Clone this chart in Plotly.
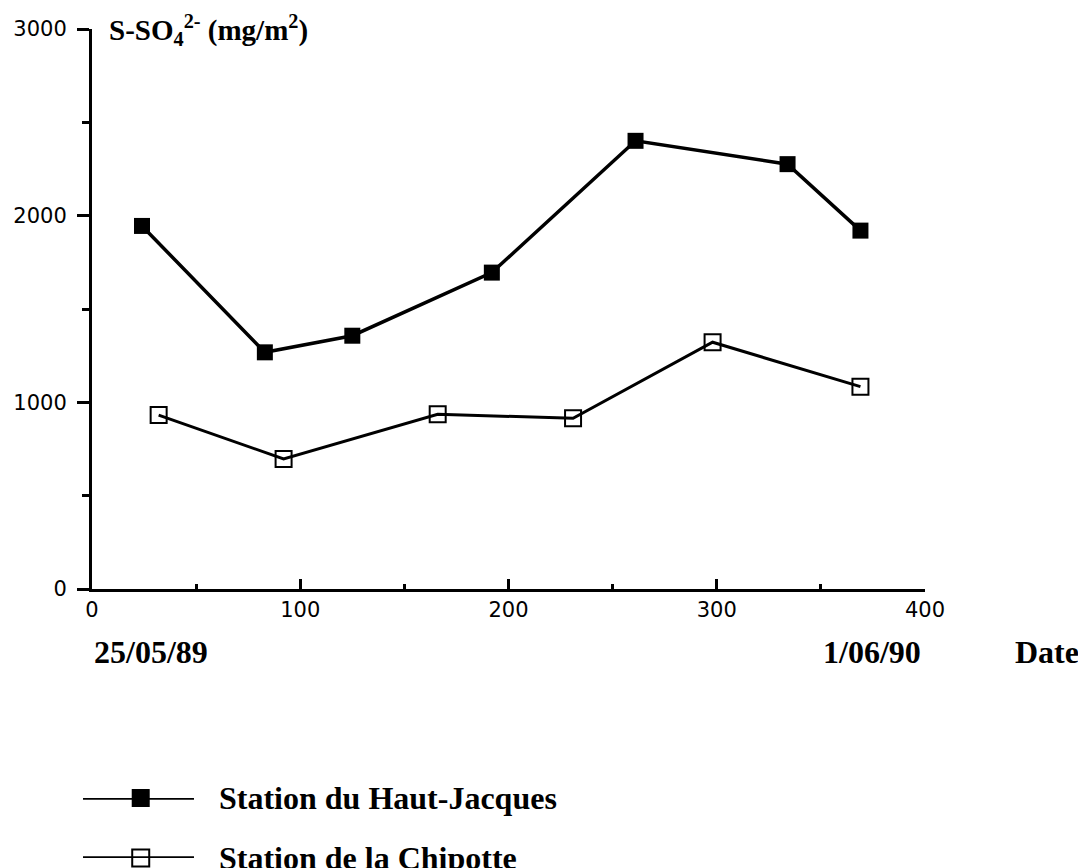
import plotly.graph_objects as go

# jours depuis le 25/05/89 et S-SO4 (mg/m2)
days_hj = [24, 83, 125, 192, 261, 334, 369]
so4_hj = [1945, 1268, 1357, 1695, 2401, 2276, 1920]
days_ch = [32, 92, 166, 231, 298, 369]
so4_ch = [932, 697, 936, 915, 1322, 1084]

names = ["Station du Haut-Jacques", "Station de la Chipotte"]
x_ticks = [0, 100, 200, 300, 400]
y_ticks = [0, 1000, 2000, 3000]

# legend key: a line across the key box with the marker in the middle
key_x = [0, 1]
key_mid = [0.52]
key_rows = [1, 0]

tick_font = dict(family="DejaVu Sans", size=21, color="black")
bold_font = dict(family="Liberation Serif", size=32, color="black", weight="bold")

fig = go.Figure()

fig.add_trace(go.Scatter(
    x=days_hj, y=so4_hj, mode="lines+markers", name=names[0],
    line=dict(color="black", width=3.5),
    marker=dict(symbol="square", size=16, color="black"),
    showlegend=False, cliponaxis=False
))
fig.add_trace(go.Scatter(
    x=days_ch, y=so4_ch, mode="lines+markers", name=names[1],
    line=dict(color="black", width=3),
    marker=dict(symbol="square-open", size=16, color="black", line=dict(width=2)),
    showlegend=False, cliponaxis=False
))

# hand-made legend keys on a hidden subplot
fig.add_trace(go.Scatter(x=key_x, y=[key_rows[0]] * 2, mode="lines", xaxis="x2", yaxis="y2",
                         line=dict(color="black", width=3.5), showlegend=False, cliponaxis=False))
fig.add_trace(go.Scatter(x=key_mid, y=[key_rows[0]], mode="markers", xaxis="x2", yaxis="y2",
                         marker=dict(symbol="square", size=18, color="black"),
                         showlegend=False, cliponaxis=False))
fig.add_trace(go.Scatter(x=key_x, y=[key_rows[1]] * 2, mode="lines", xaxis="x2", yaxis="y2",
                         line=dict(color="black", width=3.5), showlegend=False, cliponaxis=False))
fig.add_trace(go.Scatter(x=key_mid, y=[key_rows[1]], mode="markers", xaxis="x2", yaxis="y2",
                         marker=dict(symbol="square-open", size=17, color="black", line=dict(width=2)),
                         showlegend=False, cliponaxis=False))

annotations = [
    dict(text="S-SO<sub>4</sub><sup>2-</sup> (mg/m<sup>2</sup>)", x=0.0543, y=0.999,
         xref="paper", yref="paper", xanchor="left", yanchor="middle", showarrow=False,
         font=dict(family="Liberation Serif", size=29, color="black", weight="bold")),
    dict(text="25/05/89", x=0.037, y=0.2574, xref="paper", yref="paper",
         xanchor="left", yanchor="middle", showarrow=False, font=bold_font),
    dict(text="1/06/90", x=0.9977, y=0.2574, xref="paper", yref="paper",
         xanchor="right", yanchor="middle", showarrow=False, font=bold_font),
    dict(text="Date", x=1.1017, y=0.2574, xref="paper", yref="paper",
         xanchor="left", yanchor="middle", showarrow=False, font=bold_font),
]
for name, row in zip(names, key_rows):
    annotations.append(dict(text=name, x=0.1815, y=row, xref="paper", yref="y2",
                            xanchor="left", yanchor="middle", showarrow=False, font=bold_font))

fig.update_layout(
    width=1078, height=868,
    margin=dict(l=60, r=153, t=29, b=0, autoexpand=False),
    paper_bgcolor="white", plot_bgcolor="white",
    showlegend=False,
    annotations=annotations,
    xaxis=dict(
        range=[0, 400], domain=[0.037, 1], tickvals=x_ticks, automargin=False,
        showgrid=False, zeroline=False, showline=True, linecolor="black", linewidth=3,
        ticks="inside", ticklen=10, tickwidth=3, tickcolor="black",
        minor=dict(dtick=50, ticks="inside", ticklen=5, tickwidth=3, tickcolor="black"),
        tickfont=tick_font, ticklabelstandoff=0, anchor="y"
    ),
    yaxis=dict(
        range=[0, 3000], domain=[0.3325, 1], tickvals=y_ticks, automargin=False,
        showgrid=False, zeroline=False, showline=True, linecolor="black", linewidth=3,
        ticks="outside", ticklen=12, tickwidth=3, tickcolor="black",
        minor=dict(dtick=500, ticks="outside", ticklen=7, tickwidth=3, tickcolor="black"),
        tickfont=tick_font, ticklabelstandoff=6, anchor="x"
    ),
    xaxis2=dict(range=[0, 1], domain=[0.0266, 0.1549], visible=False, anchor="y2", automargin=False),
    yaxis2=dict(range=[0, 1], domain=[0.0119, 0.0834], visible=False, anchor="x2", automargin=False),
)

# the page body keeps its default 8px margin otherwise
fig.write_html("out.html", config={"displayModeBar": False},
               post_script="document.body.style.margin = '0';")
